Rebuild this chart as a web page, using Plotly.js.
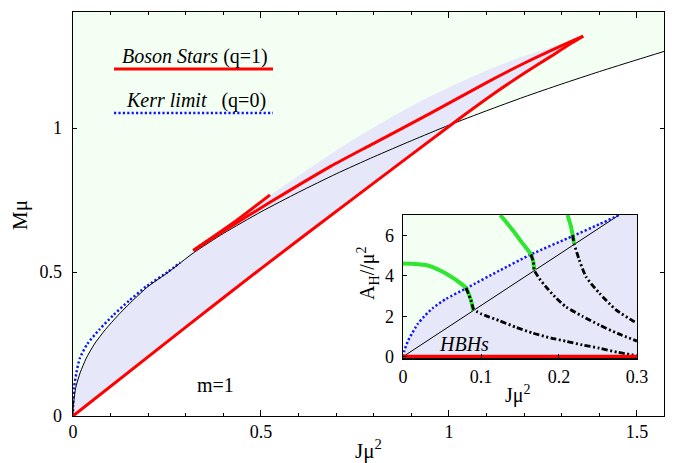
<!DOCTYPE html>
<html>
<head>
<meta charset="utf-8">
<script src="https://cdn.plot.ly/plotly-3.0.1.min.js"></script>
<style>html,body{margin:0;padding:0;background:#fff;}</style>
</head>
<body>
<div id="chart" style="width:674px;height:463px;"></div>
<script>
// ---------- Main panel data (J mu^2 , M mu) ----------
// existence line (thin black)
const existJ = [0, 0.0012, 0.0075, 0.019, 0.035, 0.057, 0.086, 0.12, 0.158, 0.2, 0.254, 0.32, 0.4, 0.5, 0.6, 0.7, 0.8, 0.9, 1.0, 1.1, 1.2, 1.3, 1.4, 1.5, 1.572];
const existM = [0, 0.04, 0.1, 0.15, 0.2, 0.25, 0.3, 0.35, 0.4, 0.45, 0.5, 0.566, 0.634, 0.709, 0.777, 0.841, 0.9, 0.956, 1.01, 1.06, 1.108, 1.153, 1.196, 1.237, 1.266];
// Kerr limit (blue dotted)
const kerrJ = [0, 0.0004, 0.003, 0.009, 0.018, 0.038, 0.07, 0.107, 0.149, 0.195, 0.252, 0.285];
const kerrM = [0, 0.04, 0.1, 0.15, 0.2, 0.25, 0.3, 0.35, 0.4, 0.45, 0.5, 0.533];
// Boson stars (q=1): lower branch, upper branch, final stub
const bsLowJ = [0, 0.311, 0.5, 0.745, 1.029, 1.12, 1.2, 1.27, 1.32, 1.357];
const bsLowM = [0, 0.32, 0.512, 0.755, 1.034, 1.12, 1.19, 1.248, 1.29, 1.319];
const bsUpJ = [1.357, 1.3, 1.2, 1.1, 0.949, 0.79, 0.684, 0.524, 0.4, 0.32];
const bsUpM = [1.319, 1.286, 1.225, 1.158, 1.05, 0.94, 0.866, 0.742, 0.642, 0.575];
const bsStubJ = [0.32, 0.435, 0.524];
const bsStubM = [0.575, 0.679, 0.768];
// upper edge of the hairy BH domain (lavender region)
const domUpJ = [0, 0.0012, 0.0075, 0.019, 0.035, 0.057, 0.086, 0.12, 0.158, 0.2, 0.254, 0.3, 0.32, 0.45, 0.55, 0.71, 0.83, 0.95, 1.1, 1.2, 1.3, 1.357];
const domUpM = [0, 0.04, 0.1, 0.15, 0.2, 0.25, 0.3, 0.35, 0.4, 0.45, 0.5, 0.548, 0.578, 0.70, 0.79, 0.93, 1.025, 1.11, 1.2, 1.25, 1.293, 1.319];

// ---------- Inset data (J mu^2 , A_H / mu^2) ----------
const inKerrJ = [0, 0.0017, 0.006, 0.0123, 0.0188, 0.0273, 0.038, 0.055, 0.0829, 0.1234, 0.164, 0.217, 0.252, 0.277];
const inKerrA = [0, 0.3, 0.75, 1.2, 1.62, 2.0, 2.4, 2.85, 3.42, 4.25, 5.05, 5.95, 6.55, 7.0];
const inLineJ = [0, 0.277];
const inLineA = [0, 7.0];
const arc1J = [0, 0.0294, 0.0508, 0.0679, 0.0807, 0.087, 0.0901];
const arc1A = [4.61, 4.53, 4.2, 3.79, 3.4, 2.8, 2.28];
const dd1J = [0.0807, 0.087, 0.0905, 0.095, 0.1, 0.11, 0.1234, 0.145, 0.166, 0.19, 0.209, 0.23, 0.252, 0.275, 0.3];
const dd1A = [3.4, 2.8, 2.35, 2.22, 2.12, 1.97, 1.78, 1.45, 1.17, 0.92, 0.76, 0.58, 0.42, 0.22, 0.05];
const arc2J = [0.1247, 0.1405, 0.1533, 0.164, 0.167, 0.1683];
const arc2A = [7.0, 6.26, 5.6, 5.05, 4.7, 4.28];
const dd2J = [0.164, 0.167, 0.1683, 0.175, 0.1833, 0.195, 0.209, 0.23, 0.252, 0.275, 0.3];
const dd2A = [5.05, 4.7, 4.28, 3.85, 3.45, 2.95, 2.46, 2.0, 1.56, 1.15, 0.77];
const arc3J = [0.211, 0.2154, 0.2175, 0.2196];
const arc3A = [7.0, 6.42, 6.01, 5.56];
const dd3J = [0.2175, 0.2196, 0.226, 0.2346, 0.252, 0.2731, 0.2944, 0.3];
const dd3A = [6.01, 5.56, 4.78, 3.95, 3.13, 2.31, 1.78, 1.68];
const bsInJ = [0, 0.3];
const bsInA = [0, 0];

// ---------- axis ranges ----------
const xR = [0, 1.572], yR = [0, 1.403];
const x2R = [0, 0.3], y2R = [-0.08, 7.0];

const GREEN_BG = '#f3fff3', LAV = '#e7e7fa', RED = '#ff0000', BLUE = '#1414ff', ARC = '#2fe52f';
const FONT = 'Liberation Serif, Times New Roman, serif';
const DDASH = '6px,2.5px,2px,2.5px,2px,2.5px';
const SPL = (extra) => Object.assign({shape: 'spline', smoothing: 0.6}, extra);

const traces = [
  // main: green region above existence line (top edge, then existence line filled to it)
  {x: [xR[0], xR[1]], y: [yR[1], yR[1]], mode: 'lines', line: {width: 0}, hoverinfo: 'skip', xaxis: 'x', yaxis: 'y'},
  {x: existJ, y: existM, mode: 'lines', fill: 'tonexty', fillcolor: GREEN_BG, line: SPL({width: 0}), hoverinfo: 'skip', xaxis: 'x', yaxis: 'y'},
  // main: lavender domain (lower branch, then upper edge filled to it)
  {x: bsLowJ, y: bsLowM, mode: 'lines', line: SPL({width: 0}), hoverinfo: 'skip', xaxis: 'x', yaxis: 'y'},
  {x: domUpJ, y: domUpM, mode: 'lines', fill: 'tonexty', fillcolor: LAV, line: SPL({width: 0}), hoverinfo: 'skip', xaxis: 'x', yaxis: 'y'},
  {x: kerrJ, y: kerrM, mode: 'lines', line: SPL({color: BLUE, width: 2.5, dash: '2.2px,2.2px'}), xaxis: 'x', yaxis: 'y'},
  {x: existJ, y: existM, mode: 'lines', line: SPL({color: '#000', width: 1}), xaxis: 'x', yaxis: 'y'},
  {x: bsLowJ, y: bsLowM, mode: 'lines', line: SPL({color: RED, width: 3}), xaxis: 'x', yaxis: 'y'},
  {x: bsUpJ, y: bsUpM, mode: 'lines', line: SPL({color: RED, width: 3}), xaxis: 'x', yaxis: 'y'},
  {x: bsStubJ, y: bsStubM, mode: 'lines', line: SPL({color: RED, width: 3}), xaxis: 'x', yaxis: 'y'},

  // inset fills
  {x: inKerrJ.concat([x2R[0]]), y: inKerrA.concat([y2R[1]]), fill: 'toself', fillcolor: GREEN_BG,
   mode: 'lines', line: {width: 0}, hoverinfo: 'skip', xaxis: 'x2', yaxis: 'y2'},
  {x: inKerrJ.concat([x2R[1], x2R[1], x2R[0]]), y: inKerrA.concat([y2R[1], y2R[0], y2R[0]]), fill: 'toself', fillcolor: LAV,
   mode: 'lines', line: {width: 0}, hoverinfo: 'skip', xaxis: 'x2', yaxis: 'y2'},
  {x: inLineJ, y: inLineA, mode: 'lines', line: {color: '#000', width: 1}, xaxis: 'x2', yaxis: 'y2'},
  {x: inKerrJ, y: inKerrA, mode: 'lines', line: SPL({color: BLUE, width: 2.5, dash: '2.2px,2.2px'}), xaxis: 'x2', yaxis: 'y2'},
  {x: arc1J, y: arc1A, mode: 'lines', line: SPL({color: ARC, width: 4}), xaxis: 'x2', yaxis: 'y2'},
  {x: arc2J, y: arc2A, mode: 'lines', line: SPL({color: ARC, width: 4}), xaxis: 'x2', yaxis: 'y2'},
  {x: arc3J, y: arc3A, mode: 'lines', line: SPL({color: ARC, width: 4}), xaxis: 'x2', yaxis: 'y2'},
  {x: dd1J, y: dd1A, mode: 'lines', line: SPL({color: '#000', width: 2.8, dash: DDASH}), xaxis: 'x2', yaxis: 'y2'},
  {x: dd2J, y: dd2A, mode: 'lines', line: SPL({color: '#000', width: 2.8, dash: DDASH}), xaxis: 'x2', yaxis: 'y2'},
  {x: dd3J, y: dd3A, mode: 'lines', line: SPL({color: '#000', width: 2.8, dash: DDASH}), xaxis: 'x2', yaxis: 'y2'},
  {x: bsInJ, y: bsInA, mode: 'lines', line: {color: RED, width: 4}, xaxis: 'x2', yaxis: 'y2', cliponaxis: false}
];

const axCommon = {showgrid: false, zeroline: false, showline: true, linecolor: '#000', linewidth: 1.3,
  ticks: 'inside', tickcolor: '#000', mirror: 'ticks', tickfont: {family: FONT, size: 18, color: '#000'}};

const layout = {
  width: 674, height: 463,
  margin: {l: 73, r: 10, t: 12, b: 47},
  paper_bgcolor: '#fff', plot_bgcolor: '#fff',
  showlegend: false,
  font: {family: FONT, color: '#000'},
  xaxis: Object.assign({}, axCommon, {range: xR, tickvals: [0, 0.5, 1, 1.5], ticktext: ['0', '0.5', '1', '1.5'],
    ticklen: 6, ticklabelstandoff: -1, minor: {dtick: 0.1, ticks: 'inside', ticklen: 3, tickcolor: '#000'}}),
  yaxis: Object.assign({}, axCommon, {range: yR, tickvals: [0, 0.5, 1], ticktext: ['0', '0.5', '1'],
    ticklen: 4, ticklabelstandoff: 6}),
  xaxis2: Object.assign({}, axCommon, {domain: [0.5584, 0.9543], anchor: 'y2', range: x2R,
    tickvals: [0, 0.1, 0.2, 0.3], ticktext: ['0', '0.1', '0.2', '0.3'], ticklen: 4, mirror: true, ticklabelstandoff: 2}),
  yaxis2: Object.assign({}, axCommon, {domain: [0.1428, 0.4975], anchor: 'x2', range: y2R,
    tickvals: [0, 2, 4, 6], ticktext: ['0', '2', '4', '6'], ticklen: 4, mirror: true, ticklabelstandoff: 4}),
  shapes: [
    {type: 'line', xref: 'paper', yref: 'paper', x0: 0.0694, x1: 0.3384, y0: 0.859, y1: 0.859, line: {color: RED, width: 3}},
    {type: 'line', xref: 'paper', yref: 'paper', x0: 0.0694, x1: 0.3384, y0: 0.75, y1: 0.75, line: {color: BLUE, width: 2.5, dash: '2.2px,2.2px'}}
  ],
  annotations: [
    {xref: 'paper', yref: 'paper', x: 0.2064, y: 0.891, xanchor: 'center', yanchor: 'middle', showarrow: false,
     text: '<i>Boson Stars</i> (q=1)', font: {family: FONT, size: 20, color: '#000'}},
    {xref: 'paper', yref: 'paper', x: 0.208, y: 0.782, xanchor: 'center', yanchor: 'middle', showarrow: false,
     text: '<i>Kerr limit</i>\u00a0\u00a0\u00a0(q=0)', font: {family: FONT, size: 20, color: '#000'}},
    {xref: 'x', yref: 'y', x: 0.378, y: 0.106, xanchor: 'center', yanchor: 'middle', showarrow: false,
     text: 'm=1', font: {family: FONT, size: 20, color: '#000'}},
    {xref: 'x2', yref: 'y2', x: 0.0786, y: 0.62, xanchor: 'center', yanchor: 'middle', showarrow: false,
     text: '<i>HBHs</i>', font: {family: FONT, size: 20, color: '#000'}},
    {xref: 'paper', yref: 'paper', x: -0.0897, y: 0.4975, xanchor: 'center', yanchor: 'middle', showarrow: false,
     textangle: -90, text: 'Mμ', font: {family: FONT, size: 21, color: '#000'}},
    {xref: 'paper', yref: 'paper', x: 0.5, y: -0.082, xanchor: 'center', yanchor: 'middle', showarrow: false,
     text: 'Jμ<sup>2</sup>', font: {family: FONT, size: 21, color: '#000'}},
    {xref: 'paper', yref: 'paper', x: 0.753, y: 0.054, xanchor: 'center', yanchor: 'middle', showarrow: false,
     text: 'Jμ<sup>2</sup>', font: {family: FONT, size: 20, color: '#000'}},
    {xref: 'paper', yref: 'paper', x: 0.499, y: 0.354, xanchor: 'center', yanchor: 'middle', showarrow: false,
     textangle: -90, text: 'A<sub>H</sub>//μ<sup>2</sup>', font: {family: FONT, size: 20, color: '#000'}}
  ]
};

Plotly.newPlot('chart', traces, layout, {displayModeBar: false, staticPlot: true});
</script>
</body>
</html>
